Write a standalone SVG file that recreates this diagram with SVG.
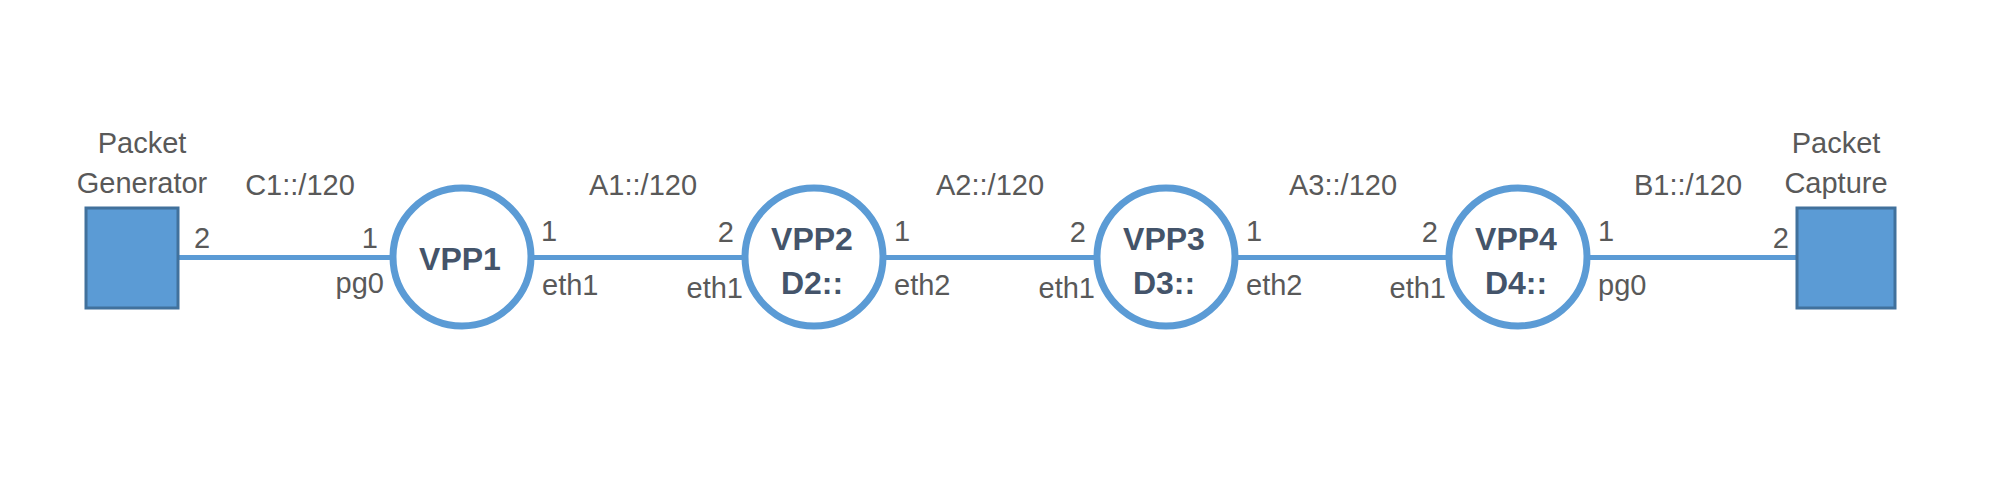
<svg xmlns="http://www.w3.org/2000/svg" width="1999" height="491" viewBox="0 0 1999 491">
<style>
.lbl{font-family:"Liberation Sans",Arial,sans-serif;font-size:29px;fill:#595959}
.mid{text-anchor:middle}
.end{text-anchor:end}
.vpp{font-family:"Liberation Sans",Arial,sans-serif;font-size:32px;font-weight:bold;fill:#44546a;text-anchor:middle}
.ring{fill:#ffffff;stroke:#5b9bd5;stroke-width:7}
.box{fill:#5b9bd5;stroke:#41719c;stroke-width:3}
.link{stroke:#5b9bd5;stroke-width:5;fill:none}
</style>
<rect width="1999" height="491" fill="#ffffff"/>
<g id="connectors">
<line class="link" x1="178" y1="257.5" x2="392" y2="257.5"/>
<line class="link" x1="532" y1="257.5" x2="744" y2="257.5"/>
<line class="link" x1="884" y1="257.5" x2="1096" y2="257.5"/>
<line class="link" x1="1236" y1="257.5" x2="1448" y2="257.5"/>
<line class="link" x1="1588" y1="257.5" x2="1797" y2="257.5"/>
</g>
<g id="link-labels">
<text class="lbl mid" x="300" y="195">C1::/120</text>
<text class="lbl mid" x="643" y="195">A1::/120</text>
<text class="lbl mid" x="990" y="195">A2::/120</text>
<text class="lbl mid" x="1343" y="195">A3::/120</text>
<text class="lbl mid" x="1688" y="195">B1::/120</text>
<text class="lbl" x="194" y="248">2</text>
<text class="lbl end" x="378" y="248">1</text>
<text class="lbl end" x="384" y="293">pg0</text>
<text class="lbl" x="541" y="241">1</text>
<text class="lbl" x="542" y="295">eth1</text>
<text class="lbl end" x="734" y="242">2</text>
<text class="lbl end" x="743" y="298">eth1</text>
<text class="lbl" x="894" y="241">1</text>
<text class="lbl" x="894" y="295">eth2</text>
<text class="lbl end" x="1086" y="242">2</text>
<text class="lbl end" x="1095" y="298">eth1</text>
<text class="lbl" x="1246" y="241">1</text>
<text class="lbl" x="1246" y="295">eth2</text>
<text class="lbl end" x="1438" y="242">2</text>
<text class="lbl end" x="1446" y="298">eth1</text>
<text class="lbl" x="1598" y="241">1</text>
<text class="lbl" x="1598" y="295">pg0</text>
<text class="lbl end" x="1789" y="248">2</text>
</g>
<g id="packet-generator">
<rect class="box" x="86" y="208" width="92" height="100"/>
<text class="lbl mid" x="142" y="153">Packet</text>
<text class="lbl mid" x="142" y="193">Generator</text>
</g>
<g id="vpp1">
<circle class="ring" cx="462" cy="257" r="69"/>
<text class="vpp" x="460" y="270">VPP1</text>
</g>
<g id="vpp2">
<circle class="ring" cx="814" cy="257" r="69"/>
<text class="vpp" x="812" y="250">VPP2</text>
<text class="vpp" x="812" y="294">D2::</text>
</g>
<g id="vpp3">
<circle class="ring" cx="1166" cy="257" r="69"/>
<text class="vpp" x="1164" y="250">VPP3</text>
<text class="vpp" x="1164" y="294">D3::</text>
</g>
<g id="vpp4">
<circle class="ring" cx="1518" cy="257" r="69"/>
<text class="vpp" x="1516" y="250">VPP4</text>
<text class="vpp" x="1516" y="294">D4::</text>
</g>
<g id="packet-capture">
<rect class="box" x="1797" y="208" width="98" height="100"/>
<text class="lbl mid" x="1836" y="153">Packet</text>
<text class="lbl mid" x="1836" y="193">Capture</text>
</g>
</svg>
